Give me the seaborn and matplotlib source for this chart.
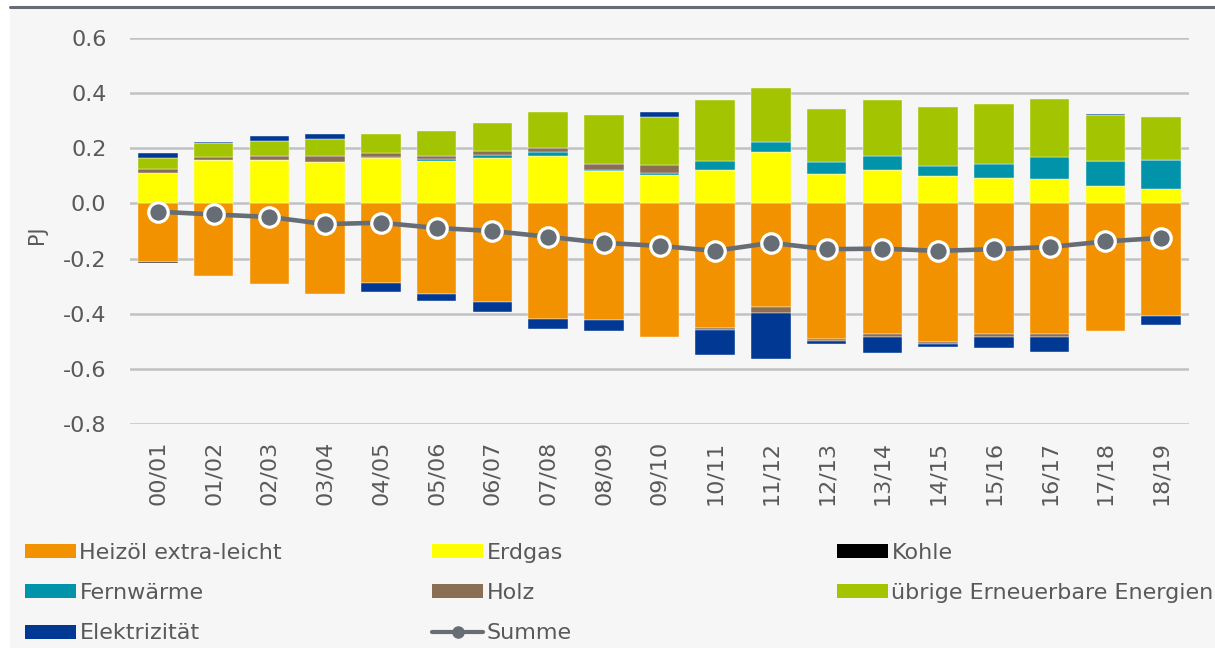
import numpy as np
import matplotlib
matplotlib.use("Agg")
import matplotlib.pyplot as plt
import seaborn as sns
from matplotlib.patches import Patch, Rectangle
from matplotlib.lines import Line2D

# Values (PJ)
years = ['00/01', '01/02', '02/03', '03/04', '04/05', '05/06', '06/07', '07/08', '08/09', '09/10',
         '10/11', '11/12', '12/13', '13/14', '14/15', '15/16', '16/17', '17/18', '18/19']

heizoel = [-0.212, -0.263, -0.291, -0.327, -0.290, -0.330, -0.358, -0.420, -0.422, -0.485,
           -0.453, -0.377, -0.491, -0.475, -0.504, -0.475, -0.474, -0.461, -0.409]
erdgas = [0.111, 0.157, 0.157, 0.151, 0.164, 0.153, 0.166, 0.172, 0.117, 0.103,
          0.121, 0.185, 0.108, 0.121, 0.100, 0.092, 0.087, 0.064, 0.051]
kohle = [-0.005, 0, 0, 0, 0, 0, 0, 0, 0, 0,
         0, 0, 0, 0, 0, 0, 0, 0, 0]
fernwaerme = [0, 0, 0, 0, 0.005, 0.008, 0.009, 0.013, 0.006, 0.008,
              0.034, 0.039, 0.044, 0.051, 0.035, 0.051, 0.082, 0.091, 0.106]
holz = [0.013, 0.012, 0.015, 0.021, 0.015, 0.011, 0.014, 0.016, 0.021, 0.029,
        -0.006, -0.021, -0.007, -0.010, -0.005, -0.008, -0.009, 0, 0]
uebrige = [0.042, 0.051, 0.055, 0.063, 0.068, 0.092, 0.104, 0.132, 0.176, 0.175,
           0.221, 0.196, 0.192, 0.204, 0.213, 0.217, 0.210, 0.165, 0.158]
elektrizitaet = [0.016, 0.003, 0.018, 0.017, -0.031, -0.024, -0.035, -0.037, -0.040, 0.017,
                 -0.090, -0.165, -0.011, -0.057, -0.012, -0.042, -0.057, 0.005, -0.032]
summe = [-0.030, -0.040, -0.049, -0.075, -0.070, -0.089, -0.100, -0.121, -0.143, -0.154,
         -0.172, -0.143, -0.166, -0.164, -0.172, -0.166, -0.158, -0.138, -0.125]

yticks = [-0.8, -0.6, -0.4, -0.2, 0.0, 0.2, 0.4, 0.6]
ytick_labels = ['-0.8', '-0.6', '-0.4', '-0.2', '0.0', '0.2', '0.4', '0.6']

series = [
    ('Heizöl extra-leicht', heizoel, '#f39200'),
    ('Erdgas', erdgas, '#ffff00'),
    ('Kohle', kohle, '#000000'),
    ('Fernwärme', fernwaerme, '#0093a9'),
    ('Holz', holz, '#8b6f55'),
    ('übrige Erneuerbare Energien', uebrige, '#a3c400'),
    ('Elektrizität', elektrizitaet, '#003893'),
]
summe_color = '#666d75'
bg = '#f6f6f6'
text_color = '#595959'

sns.set_style("white")
plt.rcParams['font.family'] = ['DejaVu Sans']

fig = plt.figure(figsize=(12.15, 6.48), dpi=100, facecolor='white')
# grey panel and dark top rule like the original
fig.patches.append(Rectangle((10 / 1215, 0), 1, 1 - 9 / 648, transform=fig.transFigure,
                             facecolor=bg, edgecolor='none', zorder=-5))
fig.add_artist(Line2D([10 / 1215, 1], [1 - 7 / 648, 1 - 7 / 648], transform=fig.transFigure,
                      color='#666d75', linewidth=2.2))

ax = fig.add_axes([130 / 1215, 1 - 424 / 648, 1059 / 1215, 386 / 648])
ax.set_facecolor(bg)

# stacked bars, positive and negative parts stacked separately
pos_base = np.zeros(len(years))
neg_base = np.zeros(len(years))
for name, vals, color in series:
    v = np.array(vals, dtype=float)
    bottom = np.where(v >= 0, pos_base, neg_base)
    sns.barplot(x=years, y=v, bottom=bottom, color=color, saturation=1, width=0.71,
                edgecolor='#fafafa', linewidth=0.3, ax=ax, zorder=2)
    pos_base = pos_base + np.clip(v, 0, None)
    neg_base = neg_base + np.clip(v, None, 0)

sns.pointplot(x=years, y=summe, color=summe_color, markers='o', linestyles='-',
              markersize=14, markeredgecolor='white', markeredgewidth=2.3,
              linewidth=3.3, ax=ax, zorder=5)

ax.set_ylim(-0.8, 0.6)
ax.set_xlim(-0.5, 18.5)
ax.set_yticks(yticks)
ax.set_yticklabels(ytick_labels)
ax.yaxis.grid(True, color='#bfc1c3', linewidth=1.8)
ax.set_axisbelow(True)
for s in ax.spines.values():
    s.set_visible(False)
ax.tick_params(axis='both', length=0, labelsize=16, colors=text_color)
ax.tick_params(axis='y', pad=17)
ax.tick_params(axis='x', pad=12, labelrotation=90)
ax.set_xlabel('')
ax.set_ylabel('PJ', fontsize=15, color=text_color)
ax.yaxis.set_label_coords(-0.078, 0.49)

# legend in three columns, built as three separate legends for fixed column positions
handles = [Patch(facecolor=c, edgecolor='none', label=n) for n, _, c in series]
handles.append(Line2D([], [], color=summe_color, linewidth=3, marker='o', markersize=8,
                      label='Summe'))
cols = [[handles[0], handles[3], handles[6]],
        [handles[1], handles[4], handles[7]],
        [handles[2], handles[5]]]
col_x = [25, 432, 837]
for hs, x in zip(cols, col_x):
    leg = fig.legend(handles=hs, loc='upper left', bbox_to_anchor=(x / 1215, 1 - 543 / 648),
                     frameon=False, borderpad=0, borderaxespad=0, fontsize=16,
                     handlelength=2.3, handleheight=0.6, handletextpad=0.15,
                     labelspacing=0.91)
    for t in leg.get_texts():
        t.set_color(text_color)

fig.savefig('out.png', dpi=100, facecolor='white')
